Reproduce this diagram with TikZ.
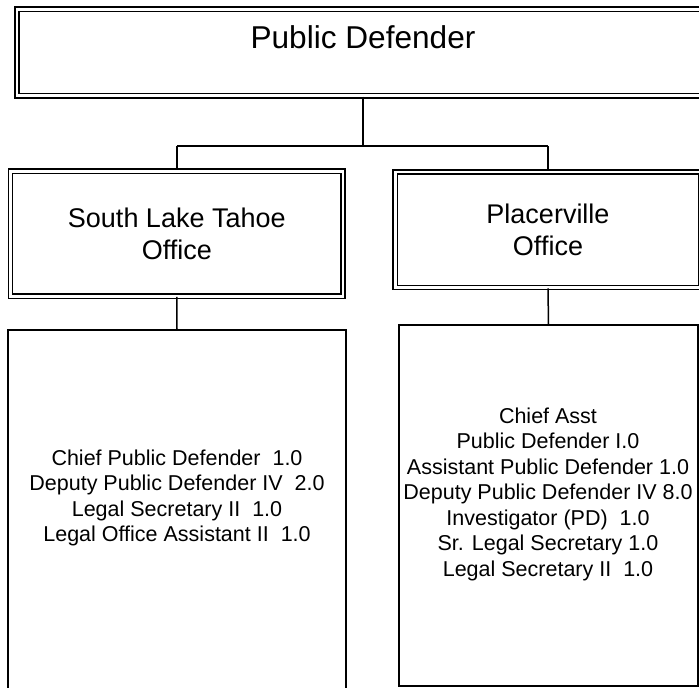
\documentclass[tikz,border=0pt]{standalone}
\usepackage{fontspec}
\setmainfont{Liberation Sans}
\usetikzlibrary{positioning}

\begin{document}
\begin{tikzpicture}[x=1pt, y=-1pt,
	dblbox/.style={rectangle, draw, double, double distance=2.8pt, line width=1.5pt, inner sep=0pt},
	staffbox/.style={rectangle, draw, line width=1.5pt, inner sep=0pt},
	link/.style={line width=1.5pt},
	titletext/.style={font=\fontsize{31.6}{37}\selectfont},
	officetext/.style={font=\fontsize{27}{32}\selectfont, align=center},
	stafftext/.style={font=\fontsize{21.5}{25.5}\selectfont, align=center}]
	\useasboundingbox (0,0) rectangle (699,688);
	\clip (0,0) rectangle (699,688);

	% --- Head ---
	\node[dblbox, minimum width=692pt, minimum height=86.5pt] (pd) at (363, 52.5) {};
	\node[titletext] (pdname) at (363, 37.5) {Public Defender};

	% --- Offices ---
	\node[dblbox, officetext, minimum width=332.5pt, minimum height=125pt] (slt) at (176.8, 233.7) {South Lake Tahoe\\Office};
	\node[dblbox, officetext, minimum width=305.4pt, minimum height=115.5pt] (plc) at (548, 229.8) {Placerville\\Office};

	% --- Staff ---
	\node[staffbox, minimum width=338pt, minimum height=370pt] (sltstaff) at (177, 515) {};
	\node[stafftext] (sltlist) at (177, 498) {Chief Public Defender~~1.0\\Deputy Public Defender IV~~2.0\\Legal Secretary II~~1.0\\Legal Office Assistant II~~1.0};

	\node[staffbox, minimum width=299pt, minimum height=361pt] (plcstaff) at (548.5, 505.5) {};
	\node[stafftext] (plclist) at (548, 494) {Chief Asst\\Public Defender I.0\\Assistant Public Defender 1.0\\Deputy Public Defender IV 8.0\\Investigator (PD)~~1.0\\Sr. Legal Secretary 1.0\\Legal Secretary II~~1.0};

	% --- Connectors ---
	\coordinate (fork) at (363, 146);
	\draw[link] (pd.south) -- (fork);
	\draw[link] (slt.north |- fork) -- (plc.north |- fork);
	\draw[link] (slt.north |- fork) -- (slt.north);
	\draw[link] (plc.north |- fork) -- (plc.north);
	\draw[link] (slt.south) -- (sltstaff.north);
	\draw[link] (plc.south) -- (plcstaff.north);
\end{tikzpicture}
\end{document}
